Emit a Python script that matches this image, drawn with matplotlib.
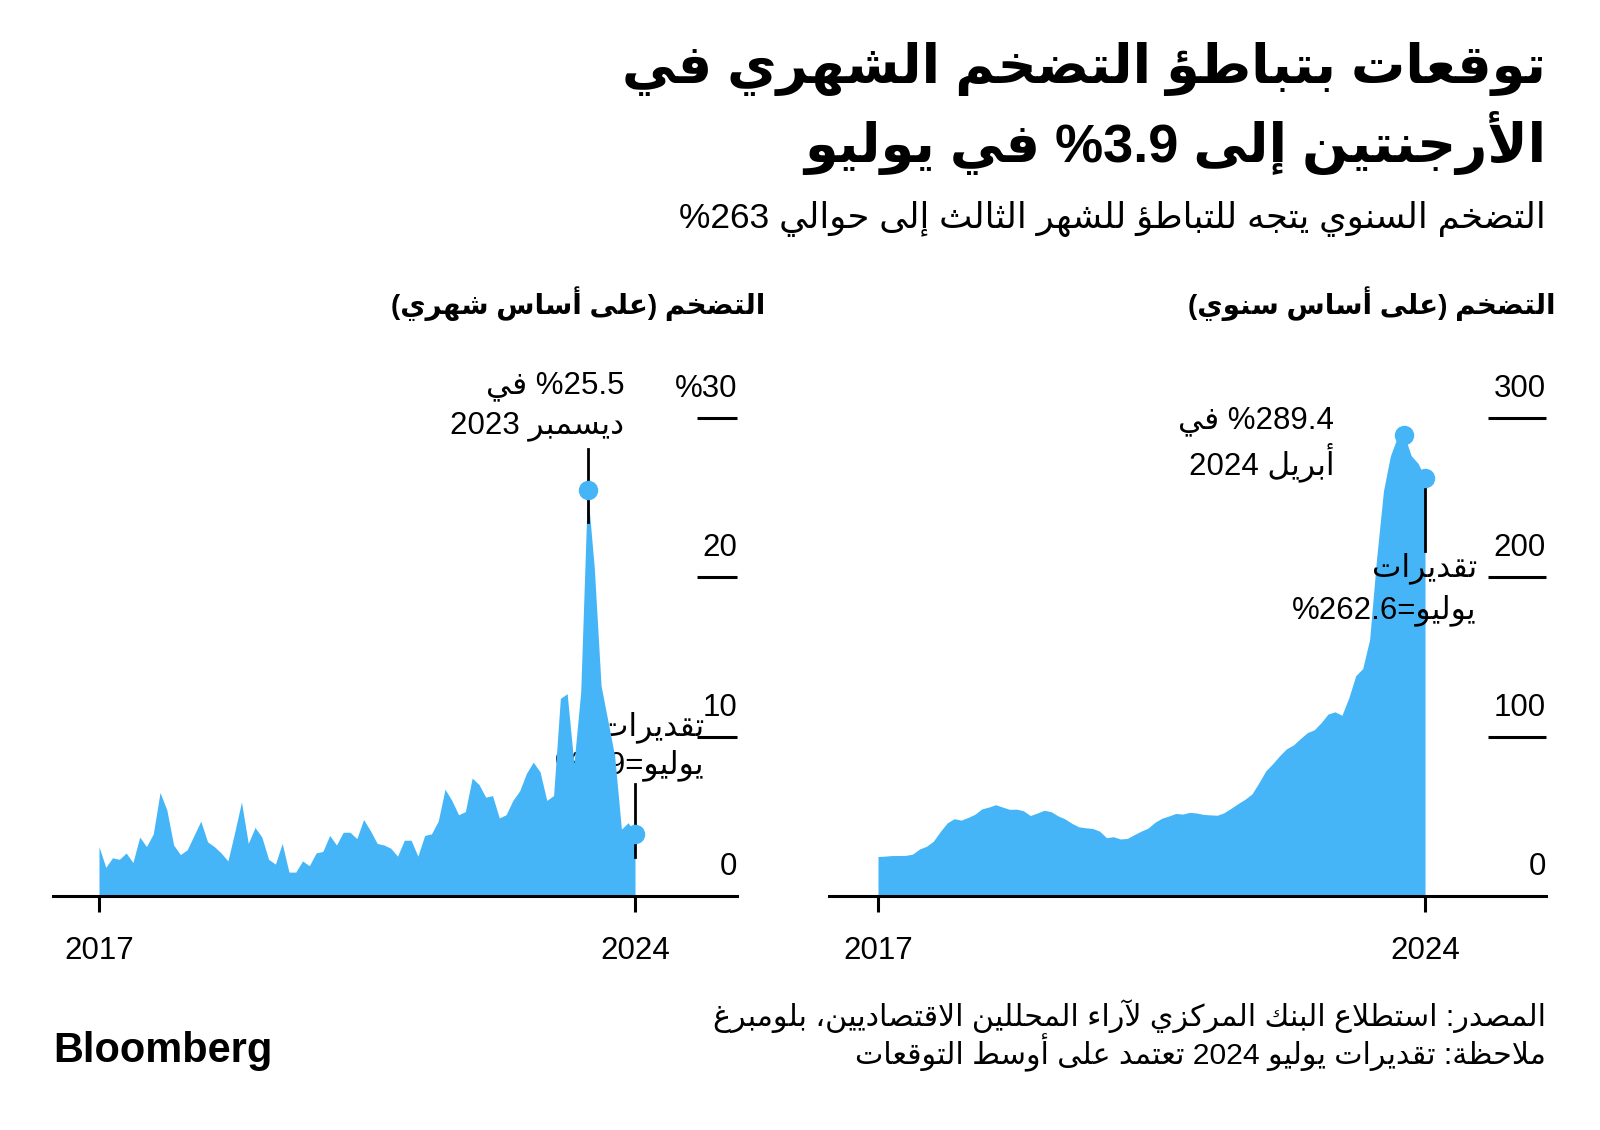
import numpy as np
import pandas as pd
import matplotlib
matplotlib.use("Agg")
import matplotlib.pyplot as plt
from matplotlib import transforms

plt.rcParams['font.family'] = ['Liberation Sans', 'DejaVu Sans']

# Inflacion Argentina, dic 2017 - jul 2024 (jul 2024 = estimacion)
meses = pd.date_range("2017-12-01", "2024-07-01", freq="MS")
mensual = [3.1,
           1.8, 2.4, 2.3, 2.7, 2.1, 3.7, 3.1, 3.9, 6.5, 5.4, 3.2, 2.6,
           2.9, 3.8, 4.7, 3.4, 3.1, 2.7, 2.2, 4.0, 5.9, 3.3, 4.3, 3.7,
           2.3, 2.0, 3.3, 1.5, 1.5, 2.2, 1.9, 2.7, 2.8, 3.8, 3.2, 4.0,
           4.0, 3.6, 4.8, 4.1, 3.3, 3.2, 3.0, 2.5, 3.5, 3.5, 2.5, 3.8,
           3.9, 4.7, 6.7, 6.0, 5.1, 5.3, 7.4, 7.0, 6.2, 6.3, 4.9, 5.1,
           6.0, 6.6, 7.7, 8.4, 7.8, 6.0, 6.3, 12.4, 12.7, 8.3, 12.8, 25.5,
           20.6, 13.2, 11.0, 8.8, 4.2, 4.6, 3.9]
anual = [24.8,
         25.0, 25.4, 25.4, 25.5, 26.3, 29.5, 31.2, 34.4, 40.5, 45.9, 48.5, 47.6,
         49.3, 51.3, 54.7, 55.8, 57.3, 55.8, 54.4, 54.5, 53.5, 50.5, 52.1, 53.8,
         52.9, 50.3, 48.4, 45.6, 43.4, 42.8, 42.4, 40.7, 36.6, 37.2, 35.8, 36.1,
         38.5, 40.7, 42.6, 46.3, 48.8, 50.2, 51.8, 51.4, 52.5, 52.1, 51.2, 50.9,
         50.7, 52.3, 55.1, 58.0, 60.7, 64.0, 71.0, 78.5, 83.0, 88.0, 92.4, 94.8,
         98.8, 102.5, 104.3, 108.8, 114.2, 115.6, 113.4, 124.4, 138.3, 142.7, 160.9, 211.4,
         254.2, 276.2, 287.9, 289.4, 276.4, 271.5, 262.6]

ticks_mensual = [0, 10, 20, 30]
etiquetas_mensual = ["0", "10", "20", "%30"]
ticks_anual = [0, 100, 200, 300]
etiquetas_anual = ["0", "100", "200", "300"]

titulo_1 = "توقعات بتباطؤ التضخم الشهري في"
titulo_2 = "الأرجنتين إلى %3.9 في يوليو"
subtitulo = "التضخم السنوي يتجه للتباطؤ للشهر الثالث إلى حوالي %263"
titulo_izq = "التضخم (على أساس شهري)"
titulo_der = "التضخم (على أساس سنوي)"
nota_pico_mensual = ["%25.5 في", "ديسمبر 2023"]
nota_est_mensual = ["تقديرات", "يوليو=%3.9"]
nota_pico_anual = ["%289.4 في", "أبريل 2024"]
nota_est_anual = ["تقديرات", "يوليو=%262.6"]
fuente = "المصدر: استطلاع البنك المركزي لآراء المحللين الاقتصاديين، بلومبرغ"
nota = "ملاحظة: تقديرات يوليو 2024 تعتمد على أوسط التوقعات"

AZUL = "#45b5f7"


# matplotlib no une las letras arabes: se pasan a formas de presentacion
# (aislada, final, inicial, media) y se invierte el orden
FORMAS = {
    'ء': (0xFE80, 1), 'آ': (0xFE81, 2), 'أ': (0xFE83, 2), 'ؤ': (0xFE85, 2),
    'إ': (0xFE87, 2), 'ئ': (0xFE89, 4), 'ا': (0xFE8D, 2), 'ب': (0xFE8F, 4),
    'ة': (0xFE93, 2), 'ت': (0xFE95, 4), 'ث': (0xFE99, 4), 'ج': (0xFE9D, 4),
    'ح': (0xFEA1, 4), 'خ': (0xFEA5, 4), 'د': (0xFEA9, 2), 'ذ': (0xFEAB, 2),
    'ر': (0xFEAD, 2), 'ز': (0xFEAF, 2), 'س': (0xFEB1, 4), 'ش': (0xFEB5, 4),
    'ص': (0xFEB9, 4), 'ض': (0xFEBD, 4), 'ط': (0xFEC1, 4), 'ظ': (0xFEC5, 4),
    'ع': (0xFEC9, 4), 'غ': (0xFECD, 4), 'ف': (0xFED1, 4), 'ق': (0xFED5, 4),
    'ك': (0xFED9, 4), 'ل': (0xFEDD, 4), 'م': (0xFEE1, 4), 'ن': (0xFEE5, 4),
    'ه': (0xFEE9, 4), 'و': (0xFEED, 2), 'ى': (0xFEEF, 2), 'ي': (0xFEF1, 4),
}
LAM_ALEF = {'آ': 0xFEF5, 'أ': 0xFEF7, 'إ': 0xFEF9, 'ا': 0xFEFB}


def unir_letras(texto):
    items = []
    i = 0
    while i < len(texto):
        c = texto[i]
        if c == 'ل' and i + 1 < len(texto) and texto[i + 1] in LAM_ALEF:
            items.append(('LA', texto[i + 1]))
            i += 2
        else:
            items.append(('C', c))
            i += 1

    def n_formas(it):
        if it[0] == 'LA':
            return 2
        return FORMAS.get(it[1], (0, 0))[1]

    res = ""
    for k, it in enumerate(items):
        n = n_formas(it)
        if n == 0:
            res += it[1]
            continue
        prev = n_formas(items[k - 1]) if k > 0 else 0
        sig = n_formas(items[k + 1]) if k + 1 < len(items) else 0
        une_prev = prev == 4 and n >= 2
        une_sig = n == 4 and sig >= 2
        if it[0] == 'LA':
            res += chr(LAM_ALEF[it[1]] + (1 if une_prev else 0))
            continue
        base = FORMAS[it[1]][0]
        if une_prev and une_sig:
            res += chr(base + 3)
        elif une_prev:
            res += chr(base + 1)
        elif une_sig:
            res += chr(base + 2)
        else:
            res += chr(base)
    return res


def rtl(texto):
    unido = unir_letras(texto)
    tramos = []
    for ch in unido:
        ltr = ch.isascii() and (ch.isalnum() or ch in ".%")
        if tramos and tramos[-1][0] == ltr:
            tramos[-1][1].append(ch)
        else:
            tramos.append([ltr, [ch]])
    espejo = {'(': ')', ')': '('}
    salida = ""
    for ltr, chars in reversed(tramos):
        if ltr:
            salida += "".join(chars)
        else:
            salida += "".join(espejo.get(c, c) for c in reversed(chars))
    return salida


fig = plt.figure(figsize=(16, 11.3), dpi=100)
W, H = 1600, 1130


def fx(x):
    return x / W


def fy(y):
    return 1 - y / H


def ajustar(t, ancho):
    r = fig.canvas.get_renderer()
    w = t.get_window_extent(r).width
    t.set_fontsize(t.get_fontsize() * ancho / w)
    return t.get_fontsize()


# Titulos
t1 = fig.text(fx(1546), fy(69), rtl(titulo_1), ha="right", va="center",
              fontsize=40, fontweight="bold")
tam = ajustar(t1, 924)
fig.text(fx(1546), fy(143), rtl(titulo_2), ha="right", va="center",
         fontsize=tam, fontweight="bold")
st = fig.text(fx(1546), fy(219), rtl(subtitulo), ha="right", va="center", fontsize=22)
ajustar(st, 867)

pt = fig.text(fx(765), fy(304), rtl(titulo_izq), ha="right", va="center",
              fontsize=20, fontweight="bold")
tam = ajustar(pt, 374)
fig.text(fx(1556), fy(304), rtl(titulo_der), ha="right", va="center",
         fontsize=tam, fontweight="bold")

BASE, ARRIBA = 896, 360


def panel(izq, der, x0, x1, y_max_px, serie, ticks, etiquetas, ancho_tick):
    ax = fig.add_axes([fx(izq), fy(BASE), (der - izq) / W, (BASE - ARRIBA) / H])
    n = len(serie)
    x = np.arange(n)
    ppx = (x1 - x0) / (n - 1)
    ax.set_xlim(-(x0 - izq) / ppx, n - 1 + (der - x1) / ppx)
    ppy = (BASE - y_max_px) / ticks[-1]
    ax.set_ylim(0, (BASE - ARRIBA) / ppy)

    ax.fill_between(x, serie, 0, color=AZUL, lw=0, zorder=2)

    for s in ["top", "left", "right"]:
        ax.spines[s].set_visible(False)
    ax.spines["bottom"].set_linewidth(2.2)
    ax.spines["bottom"].set_zorder(5)
    ax.set_xticks([0, n - 1], [str(meses[0].year), str(meses[-1].year)])
    ax.tick_params(axis="x", length=11.5, width=2.2, pad=17, labelsize=22.5)
    ax.set_yticks([])

    tr = ax.get_yaxis_transform()
    ax.hlines(ticks[1:], 1 - ancho_tick / (der - izq), 1, transform=tr,
              color="black", lw=2.2, clip_on=False)
    tr_txt = transforms.offset_copy(tr, fig=fig, y=21, units="dots")
    for v, et in zip(ticks, etiquetas):
        ax.text(1, v, et, transform=tr_txt, ha="right", va="baseline", fontsize=22.5)
    return ax, x


def nota_texto(ax, xr, ys, lineas, z):
    for y, l in zip(ys, lineas):
        ax.text(xr, y, rtl(l), ha="right", va="center", fontsize=22.5, zorder=z)


# Panel izquierdo: mensual
ax1, x = panel(53, 737, 99, 635, 418, mensual, ticks_mensual, etiquetas_mensual, 40)
i_max = int(np.argmax(mensual))
ax1.plot([x[i_max]] * 2, [mensual[i_max] + 2.55, mensual[i_max] - 2.0],
         color="black", lw=2, zorder=3)
ax1.plot(x[i_max], mensual[i_max], "o", ms=13, color=AZUL, zorder=4)
ax1.plot([x[-1]] * 2, [mensual[-1] + 3.15, mensual[-1] - 1.45],
         color="black", lw=2, zorder=3)
ax1.plot(x[-1], mensual[-1], "o", ms=13, color=AZUL, zorder=4)
nota_texto(ax1, 77.4, [32.0, 29.5], nota_pico_mensual, 6)
nota_texto(ax1, 89.2, [10.6, 8.2], nota_est_mensual, 1)

# Panel derecho: anual
ax2, x = panel(829, 1546, 878, 1425, 418, anual, ticks_anual, etiquetas_anual, 58)
i_max = int(np.argmax(anual))
ax2.plot(x[i_max], anual[i_max], "o", ms=13, color=AZUL, zorder=4)
ax2.plot([x[-1]] * 2, [anual[-1], anual[-1] - 46],
         color="black", lw=2, zorder=3)
ax2.plot(x[-1], anual[-1], "o", ms=13, color=AZUL, zorder=4)
nota_texto(ax2, 65.9, [298.1, 272.4], nota_pico_anual, 6)
nota_texto(ax2, 86.5, [205.9, 179.5], nota_est_anual, 6)

# Pie
f1 = fig.text(fx(1546), fy(1016), rtl(fuente), ha="right", va="center", fontsize=19)
tam = ajustar(f1, 832)
fig.text(fx(1546), fy(1053), rtl(nota), ha="right", va="center", fontsize=tam)
bl = fig.text(fx(53), fy(1051), "Bloomberg", ha="left", va="center",
              fontsize=28, fontweight="bold")
ajustar(bl, 219)

fig.savefig("out.png", dpi=100, facecolor="white")
